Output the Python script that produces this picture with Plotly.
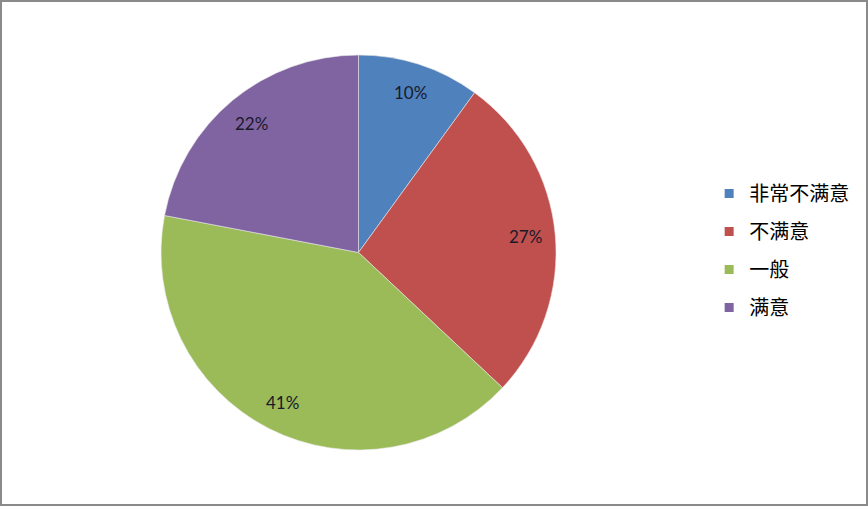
import math
import plotly.graph_objects as go

# satisfaction survey shares
labels = ["非常不满意", "不满意", "一般", "满意"]
values = [10, 27, 41, 22]
colors = ["#4F81BD", "#C0504D", "#9BBB59", "#8064A2"]

W, H = 868, 506
pie_x = [0.1855, 0.6406]
pie_y = [0.1107, 0.8913]

fig = go.Figure()
fig.add_trace(go.Pie(labels=labels,
                     values=values,
                     sort=False,
                     direction="clockwise",
                     rotation=0,
                     marker=dict(colors=colors, line=dict(color="#e8e8e8", width=0.6)),
                     textinfo="none",
                     domain=dict(x=pie_x, y=pie_y),
                     showlegend=False,
                     hoverinfo="label+percent"))

# percent labels placed out near the rim, like the original
total = sum(values)
cx = (pie_x[0] + pie_x[1]) / 2
cy = (pie_y[0] + pie_y[1]) / 2
rad = (pie_y[1] - pie_y[0]) * H / 2 * 0.85
start = 0
for v in values:
    mid = (start + v / 2) / total * 2 * math.pi
    start += v
    fig.add_annotation(x=cx + rad * math.sin(mid) / W,
                       y=cy + rad * math.cos(mid) / H,
                       xref="paper", yref="paper", showarrow=False,
                       xanchor="center", yanchor="middle",
                       text=f"{round(v / total * 100)}%",
                       font=dict(family="Lato", size=17, color="#1a1a2a"))

# legend drawn with empty square markers so the rows can be spaced out
for lab, col in zip(labels, colors):
    fig.add_trace(go.Scatter(x=[None], y=[None], mode="markers", name=lab,
                             legendgroup=lab,
                             marker=dict(symbol="square", size=9, color=col)))

fig.update_layout(width=W, height=H,
                  margin=dict(l=0, r=0, t=0, b=0),
                  paper_bgcolor="white", plot_bgcolor="white",
                  xaxis=dict(visible=False), yaxis=dict(visible=False),
                  legend=dict(x=0.817, y=0.505, xanchor="left", yanchor="middle",
                              traceorder="grouped", tracegroupgap=9,
                              font=dict(family="Noto Sans CJK SC", size=20, color="#000000"),
                              itemwidth=30),
                  shapes=[dict(type="rect", xref="paper", yref="paper",
                               x0=0, y0=0, x1=1, y1=1,
                               line=dict(color="#8a8a8a", width=4))])

fig.write_html("out.html", config={"displayModeBar": False},
               post_script="document.body.style.margin='0';")
